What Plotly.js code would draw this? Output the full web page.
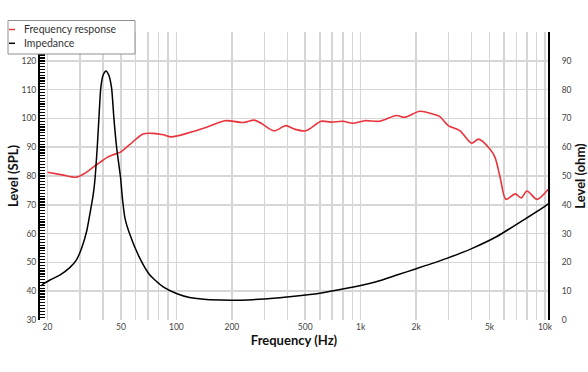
<!DOCTYPE html>
<html>
<head>
<meta charset="utf-8">
<script src="https://cdn.plot.ly/plotly-3.0.1.min.js"></script>
<style>html,body{margin:0;padding:0;background:#fff;}#chart{width:588px;height:372px;}</style>
</head>
<body>
<div id="chart"></div>
<script>
// Frequency response (dB SPL, left axis)
const frFreq = [20, 24, 28.7, 32, 36.1, 38.5, 41.9, 45, 49.4, 56, 66, 75, 85, 94, 114, 146, 183, 231, 265, 290, 339, 393, 436, 505, 610, 691, 800, 907, 1050, 1267, 1563, 1733, 2093, 2525, 2690, 2988, 3457, 4003, 4355, 5035, 5360, 5713, 6133, 6890, 7430, 7980, 9053, 10380];
const frLevel = [81.3, 80.4, 79.6, 81, 83.5, 84.7, 86.4, 87.3, 88.2, 91, 94.6, 94.8, 94.3, 93.6, 94.8, 96.9, 99.2, 98.6, 99.4, 98.2, 95.7, 97.5, 96.3, 95.7, 99, 98.7, 99, 98.3, 99.2, 99, 101, 100.4, 102.5, 101.3, 100.6, 97.5, 95.7, 91.4, 92.8, 89.3, 86.4, 79.4, 71.9, 73.8, 72.4, 74.8, 71.9, 75.3];

// Impedance (ohm, right axis)
const zFreq = [18.6, 20.6, 23.3, 26.4, 28.7, 30.6, 32.6, 33.9, 35.4, 36.1, 37.2, 38.0, 38.9, 40, 41.5, 43, 44.5, 45.8, 47.4, 49.8, 51, 52.6, 56, 63.4, 71.8, 84.8, 100, 118, 146, 195, 223, 300, 449, 600, 839, 1200, 1570, 2000, 2932, 4000, 5479, 7500, 10200, 10380];
const zOhm = [12.2, 13.9, 15.6, 18.2, 20.9, 24.9, 30.8, 36.6, 43.6, 48.3, 59.9, 70.2, 80.6, 85, 86.5, 85, 80.6, 70.2, 59.9, 49.4, 42, 35.4, 29.6, 21.4, 15.6, 11.5, 9.2, 7.8, 7.1, 6.9, 6.9, 7.3, 8.3, 9.3, 11, 13.2, 15.6, 17.8, 21.4, 24.8, 29, 34.4, 39.9, 40.4];

const xGrid = [20, 30, 40, 50, 60, 70, 80, 90, 100, 200, 300, 400, 500, 600, 700, 800, 900, 1000, 2000, 3000, 4000, 5000, 6000, 7000, 8000, 9000, 10000];
const xLabeled = {20: '20', 50: '50', 100: '100', 200: '200', 500: '500', 1000: '1k', 2000: '2k', 5000: '5k', 10000: '10k'};
const yLeftTicks = [30, 40, 50, 60, 70, 80, 90, 100, 110, 120];
const yRightTicks = [0, 10, 20, 30, 40, 50, 60, 70, 80, 90];
const seriesNames = ['Frequency response', 'Impedance'];
const seriesColors = ['#e8343c', '#000000'];

const FONT = 'Lato, "Open Sans", sans-serif';

const traces = [
  {x: frFreq, y: frLevel, name: seriesNames[0], type: 'scatter', mode: 'lines',
   line: {color: seriesColors[0], width: 1.6, shape: 'spline', smoothing: 0.8}, yaxis: 'y'},
  {x: zFreq, y: zOhm, name: seriesNames[1], type: 'scatter', mode: 'lines',
   line: {color: seriesColors[1], width: 1.5, shape: 'spline', smoothing: 0.6}, yaxis: 'y2'}
];

// legend box (paper coordinates; plot area spans 508 x 288 px)
const px = v => (v - 40) / 508;
const py = v => (320 - v) / 288;
const shapes = [
  {type: 'rect', xref: 'paper', yref: 'paper', layer: 'above',
   x0: px(8), x1: px(135), y0: py(54), y1: py(20.5),
   line: {color: '#8f8f8f', width: 1}, fillcolor: '#ffffff'}
];
const annotations = [];
const rowY = [29.5, 43.3];
seriesNames.forEach((n, i) => {
  shapes.push({type: 'line', xref: 'paper', yref: 'paper', layer: 'above',
    x0: px(9), x1: px(15), y0: py(rowY[i]), y1: py(rowY[i]),
    line: {color: seriesColors[i], width: 1.5}});
  annotations.push({xref: 'paper', yref: 'paper', x: px(22), y: py(rowY[i]),
    xanchor: 'left', yanchor: 'middle', showarrow: false, text: n,
    font: {family: FONT, size: 10.5, color: '#333'}});
});

const layout = {
  width: 588, height: 372,
  margin: {l: 40, r: 40, t: 32, b: 52},
  paper_bgcolor: '#fff', plot_bgcolor: '#fff',
  font: {family: FONT, color: '#333', size: 9},
  showlegend: false,
  shapes: shapes,
  annotations: annotations,
  xaxis: {
    type: 'log', range: [Math.log10(18.2), Math.log10(10380)],
    tickvals: xGrid, ticktext: xGrid.map(v => xLabeled[v] || ''),
    showgrid: true, gridcolor: '#d6d6d6', gridwidth: 1.5,
    showline: false, zeroline: false, ticks: '',
    tickfont: {size: 8.5, color: '#444'},
    title: {text: 'Frequency (Hz)', font: {family: FONT, size: 13, color: '#111', weight: 'bold'}, standoff: 5}
  },
  yaxis: {
    range: [30, 130], tickvals: yLeftTicks,
    showgrid: true, gridcolor: '#d6d6d6', gridwidth: 1.5,
    showline: true, linecolor: '#000', linewidth: 2, zeroline: false,
    ticks: 'inside', ticklen: 5, tickwidth: 1.5, tickcolor: '#000',
    minor: {dtick: 1, ticks: 'inside', ticklen: 5, tickwidth: 1.2, tickcolor: '#000', showgrid: false},
    tickfont: {size: 8.5, color: '#444'},
    title: {text: 'Level (SPL)', font: {family: FONT, size: 13, color: '#111', weight: 'bold'}, standoff: 0}
  },
  yaxis2: {
    overlaying: 'y', side: 'right', range: [0, 100], tickvals: yRightTicks,
    showgrid: false, showline: true, linecolor: '#000', linewidth: 2, zeroline: false,
    ticks: '', ticklabelstandoff: 10,
    tickfont: {size: 8.5, color: '#444'},
    title: {text: 'Level (ohm)', font: {family: FONT, size: 13, color: '#111', weight: 'bold'}, standoff: 2}
  }
};

Plotly.newPlot('chart', traces, layout, {displayModeBar: false, staticPlot: true});
</script>
</body>
</html>
